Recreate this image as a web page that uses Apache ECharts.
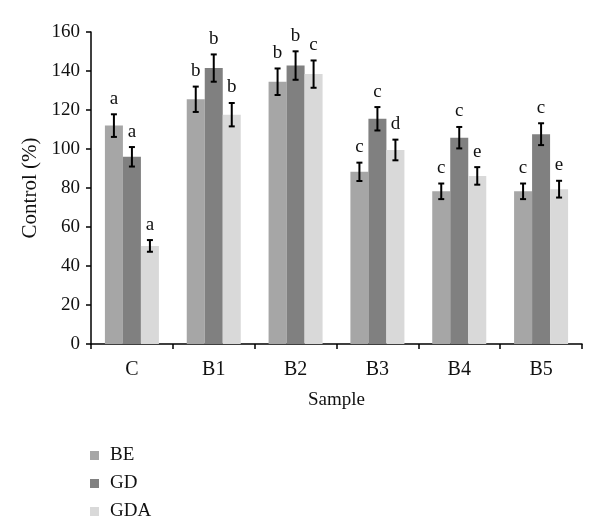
<!DOCTYPE html>
<html>
<head>
<meta charset="utf-8">
<script src="https://cdn.jsdelivr.net/npm/echarts@6/dist/echarts.min.js"></script>
<style>html,body{margin:0;padding:0;background:#fff}#c{width:600px;height:521px}</style>
</head>
<body>
<div id="c"></div>
<script>
var categories = ['C', 'B1', 'B2', 'B3', 'B4', 'B5'];
var seriesNames = ['BE', 'GD', 'GDA'];
var beValues = [112, 125.5, 134.5, 88.3, 78.3, 78.3];
var gdValues = [96, 141.5, 142.8, 115.5, 105.8, 107.6];
var gdaValues = [50.3, 117.6, 138.4, 99.5, 86.2, 79.4];
var beErrors = [5.8, 6.5, 6.8, 4.7, 4, 4];
var gdErrors = [5, 7, 7.3, 6, 5.5, 5.6];
var gdaErrors = [3, 6, 7, 5.3, 4.5, 4.3];
var beLetters = ['a', 'b', 'b', 'c', 'c', 'c'];
var gdLetters = ['a', 'b', 'b', 'c', 'c', 'c'];
var gdaLetters = ['a', 'b', 'c', 'd', 'e', 'e'];
var yTicks = [0, 20, 40, 60, 80, 100, 120, 140, 160];

var colors = ['#a6a6a6', '#808080', '#d9d9d9'];
var FONT = 'Liberation Serif';
var gapRatio = 0.34;

var allValues = [beValues, gdValues, gdaValues];
var allErrors = [beErrors, gdErrors, gdaErrors];
var allLetters = [beLetters, gdLetters, gdaLetters];

var series = [];
seriesNames.forEach(function (n, i) {
  series.push({
    name: n, type: 'bar', data: allValues[i],
    itemStyle: { color: colors[i] },
    barGap: '0%', barCategoryGap: (gapRatio * 100) + '%',
    z: 2
  });
});
seriesNames.forEach(function (n, i) {
  var d = categories.map(function (c, k) { return [k, allValues[i][k], allErrors[i][k]]; });
  series.push({
    type: 'custom', name: n + '_err', data: d, z: 5, silent: true,
    renderItem: function (params, api) {
      var k = api.value(0), v = api.value(1), e = api.value(2);
      var letter = allLetters[i][params.dataIndex];
      var catW = api.size([1, 0])[0];
      var bw = catW * (1 - gapRatio) / 3;
      var center = api.coord([k, v]);
      var x = center[0] + (i - 1) * bw;
      var top = api.coord([k, v + e])[1];
      var bot = api.coord([k, v - e])[1];
      var cap = 3;
      var st = { stroke: '#000', lineWidth: 2 };
      return {
        type: 'group',
        children: [
          { type: 'line', shape: { x1: x, y1: top, x2: x, y2: bot }, style: st },
          { type: 'line', shape: { x1: x - cap, y1: top, x2: x + cap, y2: top }, style: st },
          { type: 'line', shape: { x1: x - cap, y1: bot, x2: x + cap, y2: bot }, style: st },
          { type: 'text', x: x, y: top - 6, style: { text: letter, x: 0, y: 0, align: 'center', verticalAlign: 'bottom', font: '19px "' + FONT + '"', fill: '#111' } }
        ]
      };
    }
  });
});

var legendTops = [446, 474, 502];
var legends = seriesNames.map(function (n, i) {
  return {
    data: [n], orient: 'vertical', left: 90, top: legendTops[i], padding: 0,
    itemWidth: 9, itemHeight: 9, icon: 'rect',
    textStyle: { fontFamily: FONT, fontSize: 19, color: '#111', lineHeight: 18, padding: [0, 0, 0, 6] }
  };
});

var chart = echarts.init(document.getElementById('c'), null, { renderer: 'canvas' });
chart.setOption({
  animation: false,
  backgroundColor: '#fff',
  textStyle: { fontFamily: FONT },
  grid: { left: 91, right: 18, top: 32, bottom: 177, containLabel: false },
  legend: legends,
  xAxis: {
    type: 'category', data: categories,
    name: 'Sample', nameLocation: 'middle', nameGap: 47,
    nameTextStyle: { fontFamily: FONT, fontSize: 19, color: '#111' },
    axisLine: { lineStyle: { color: '#000', width: 1.5 } },
    axisTick: { show: true, alignWithLabel: false, length: 5, lineStyle: { color: '#000', width: 1.5 } },
    axisLabel: { fontFamily: FONT, fontSize: 20, color: '#111', margin: 16 }
  },
  yAxis: {
    type: 'value', min: 0, max: 160, interval: 20,
    name: 'Control (%)', nameLocation: 'middle', nameGap: 47,
    nameTextStyle: { fontFamily: FONT, fontSize: 21, color: '#111' },
    axisLine: { show: true, lineStyle: { color: '#000', width: 1.5 } },
    axisTick: { show: true, length: 5, lineStyle: { color: '#000', width: 1.5 } },
    splitLine: { show: false },
    axisLabel: { fontFamily: FONT, fontSize: 19, color: '#111', margin: 11,
      formatter: function (v) { return yTicks.indexOf(v) >= 0 ? String(v) : ''; } }
  },
  series: series
});
</script>
</body>
</html>
